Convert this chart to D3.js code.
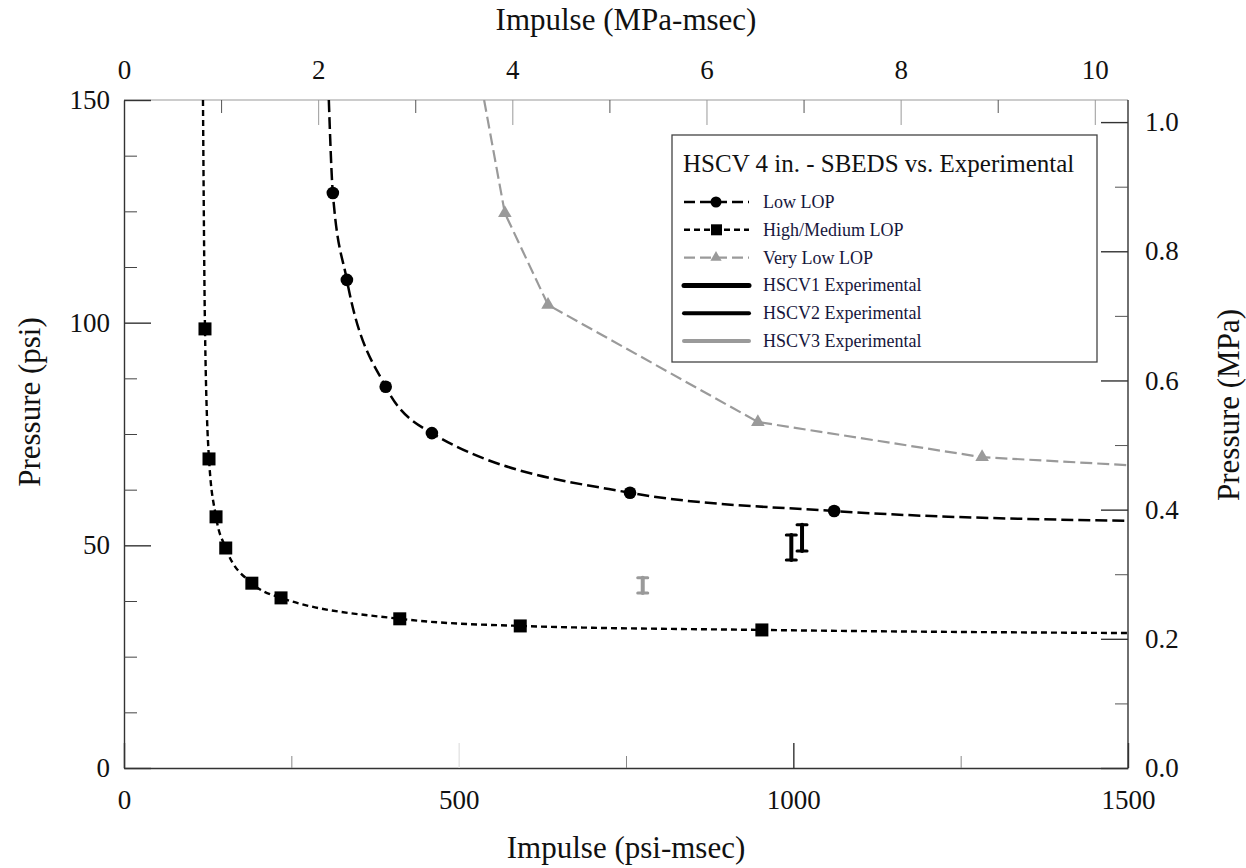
<!DOCTYPE html>
<html>
<head>
<meta charset="utf-8">
<script src="https://cdn.jsdelivr.net/npm/d3@7"></script>
<style>
  body { margin: 0; background: #fff; }
  svg text { font-family: "Liberation Serif", "Times New Roman", serif; }
</style>
</head>
<body>
<div id="chart"></div>
<script>
// ---- data (impulse in psi-msec, pressure in psi) ----
// first and last entries are where the curve leaves the frame, no marker there
var lowImpulse = [306, 312, 333, 391, 460, 756, 1061, 1500];
var lowPressure = [150, 129.1, 109.6, 85.6, 75.2, 61.8, 57.7, 55.5];

var highImpulse = [118, 121, 127, 137.5, 152, 191, 234.6, 412, 592, 953, 1500];
var highPressure = [150, 98.6, 69.4, 56.4, 49.4, 41.5, 38.2, 33.5, 31.9, 31.0, 30.3];

var veryLowImpulse = [538, 569, 633.5, 947, 1282, 1500];
var veryLowPressure = [150, 124.6, 104, 77.7, 69.8, 68.0];

// experimental ranges: impulse, pressure min, pressure max
var expNames = ["HSCV1 Experimental", "HSCV2 Experimental", "HSCV3 Experimental"];
var expImpulse = [997, 1013, 775];
var expPressureMin = [46.7, 48.7, 39.3];
var expPressureMax = [52.3, 54.6, 42.7];

var xTicks = [0, 500, 1000, 1500];
var xMinorTicks = [250, 750, 1250];
var yTicks = [0, 50, 100, 150];
var yMinorTicks = [12.5, 25, 37.5, 62.5, 75, 87.5, 112.5, 125, 137.5];
var topTicks = [0, 2, 4, 6, 8, 10];
var topMinorTicks = [1, 3, 5, 7, 9];
var rightTicks = [0, 0.2, 0.4, 0.6, 0.8, 1.0];
var rightMinorTicks = [0.1, 0.3, 0.5, 0.7, 0.9];

var PSI_PER_MPA = 145.038;

(function () {
  var width = 1246, height = 868;
  var mLeft = 124, mRight = 1128, mTop = 100, mBottom = 768;
  var grey = "#9a9a9a";

  var svg = d3.select("#chart").append("svg")
    .attr("width", width)
    .attr("height", height);

  var x = d3.scaleLinear().domain([0, 1500]).range([mLeft, mRight]);
  var y = d3.scaleLinear().domain([0, 150]).range([mBottom, mTop]);
  var xTop = d3.scaleLinear().domain([0, 1500 / PSI_PER_MPA]).range([mLeft, mRight]);
  var yRight = d3.scaleLinear().domain([0, 150 / PSI_PER_MPA]).range([mBottom, mTop]);

  function styleAxis(g, color, w) {
    g.select(".domain").attr("stroke", color).attr("stroke-width", w);
    g.selectAll(".tick line").attr("stroke", color).attr("stroke-width", w);
    g.selectAll(".tick text")
      .attr("fill", "#111")
      .style("font-size", "27px")
      .style("font-family", '"Liberation Serif", serif');
  }

  // bottom axis
  var gb = svg.append("g").attr("transform", "translate(0," + mBottom + ")")
    .call(d3.axisBottom(x).tickValues(xTicks).tickSize(-25).tickSizeOuter(0).tickPadding(22)
      .tickFormat(d3.format("d")));
  styleAxis(gb, "#333", 1.4);
  gb.selectAll(".tick line").filter(function(d) { return d == 500; }).attr("stroke", "#e4e4e4");
  var gbm = svg.append("g").attr("transform", "translate(0," + mBottom + ")")
    .call(d3.axisBottom(x).tickValues(xMinorTicks).tickSize(-12).tickFormat(""));
  gbm.select(".domain").remove();
  gbm.selectAll(".tick line").attr("stroke", "#888");

  // top axis
  var gt = svg.append("g").attr("transform", "translate(0," + mTop + ")")
    .call(d3.axisTop(xTop).tickValues(topTicks).tickSize(-25).tickSizeOuter(0).tickPadding(21));
  styleAxis(gt, "#999", 1);
  gt.select(".domain").attr("d", "M" + mLeft + ",0H" + mRight);
  var gtm = svg.append("g").attr("transform", "translate(0," + mTop + ")")
    .call(d3.axisTop(xTop).tickValues(topMinorTicks).tickSize(-13).tickFormat(""));
  gtm.select(".domain").remove();
  gtm.selectAll(".tick line").attr("stroke", "#555");

  // left axis
  var gl = svg.append("g").attr("transform", "translate(" + mLeft + ",0)")
    .call(d3.axisLeft(y).tickValues(yTicks).tickSize(-27).tickSizeOuter(0).tickPadding(14));
  styleAxis(gl, "#333", 1.4);
  var glm = svg.append("g").attr("transform", "translate(" + mLeft + ",0)")
    .call(d3.axisLeft(y).tickValues(yMinorTicks).tickSize(-13).tickFormat(""));
  glm.select(".domain").remove();
  glm.selectAll(".tick line").attr("stroke", "#444");

  // right axis
  var gr = svg.append("g").attr("transform", "translate(" + mRight + ",0)")
    .call(d3.axisRight(yRight).tickValues(rightTicks).tickSize(-27).tickSizeOuter(0).tickPadding(17)
      .tickFormat(d3.format(".1f")));
  styleAxis(gr, "#333", 1.4);
  gr.select(".domain").attr("d", "M0," + mTop + "V" + mBottom);
  var grm = svg.append("g").attr("transform", "translate(" + mRight + ",0)")
    .call(d3.axisRight(yRight).tickValues(rightMinorTicks).tickSize(-13).tickFormat(""));
  grm.select(".domain").remove();
  grm.selectAll(".tick line").attr("stroke", "#555");

  // axis titles
  svg.append("text").attr("x", (mLeft + mRight) / 2).attr("y", 30)
    .attr("text-anchor", "middle").style("font-size", "31px").attr("fill", "#111")
    .text("Impulse (MPa-msec)");
  svg.append("text").attr("x", (mLeft + mRight) / 2).attr("y", 858)
    .attr("text-anchor", "middle").style("font-size", "31px").attr("fill", "#111")
    .text("Impulse (psi-msec)");
  svg.append("text").attr("transform", "translate(40,402) rotate(-90)")
    .attr("text-anchor", "middle").style("font-size", "31px").attr("fill", "#111")
    .text("Pressure (psi)");
  svg.append("text").attr("transform", "translate(1239,405) rotate(-90)")
    .attr("text-anchor", "middle").style("font-size", "31px").attr("fill", "#111")
    .text("Pressure (MPa)");

  // clip to frame
  svg.append("clipPath").attr("id", "frame")
    .append("rect").attr("x", mLeft).attr("y", mTop)
    .attr("width", mRight - mLeft).attr("height", mBottom - mTop);

  var plot = svg.append("g").attr("clip-path", "url(#frame)");

  function toPoints(xs, ys) {
    return xs.map(function(v, i) { return [v, ys[i]]; });
  }

  var lowData = toPoints(lowImpulse, lowPressure);
  var highData = toPoints(highImpulse, highPressure);
  var veryLowData = toPoints(veryLowImpulse, veryLowPressure);

  var lineSmooth = d3.line()
    .x(function(d) { return x(d[0]); })
    .y(function(d) { return y(d[1]); })
    .curve(d3.curveMonotoneX);
  var lineStraight = d3.line()
    .x(function(d) { return x(d[0]); })
    .y(function(d) { return y(d[1]); });

  plot.append("path").attr("d", lineStraight(veryLowData))
    .attr("fill", "none").attr("stroke", grey).attr("stroke-width", 2.2).attr("stroke-dasharray", "12,5");
  plot.append("path").attr("d", lineSmooth(lowData))
    .attr("fill", "none").attr("stroke", "#000").attr("stroke-width", 2.5).attr("stroke-dasharray", "12,5");
  plot.append("path").attr("d", lineSmooth(highData))
    .attr("fill", "none").attr("stroke", "#000").attr("stroke-width", 2.4).attr("stroke-dasharray", "6,4");

  var tri = d3.symbol().type(d3.symbolTriangle).size(80);

  plot.selectAll(".tri").data(veryLowData.slice(1, -1)).enter().append("path")
    .attr("transform", function(d) { return "translate(" + x(d[0]) + "," + y(d[1]) + ")"; })
    .attr("d", tri).attr("fill", grey);
  plot.selectAll(".dot").data(lowData.slice(1, -1)).enter().append("circle")
    .attr("cx", function(d) { return x(d[0]); })
    .attr("cy", function(d) { return y(d[1]); })
    .attr("r", 6.3).attr("fill", "#000");
  plot.selectAll(".sq").data(highData.slice(1, -1)).enter().append("rect")
    .attr("x", function(d) { return x(d[0]) - 6.5; })
    .attr("y", function(d) { return y(d[1]) - 6.5; })
    .attr("width", 13).attr("height", 13).attr("fill", "#000");

  // experimental ranges (I-beams)
  var expColors = ["#000", "#000", grey];
  expNames.forEach(function(name, i) {
    var g = plot.append("g").attr("stroke", expColors[i]).attr("stroke-linecap", "round");
    var cx = x(expImpulse[i]);
    g.append("line").attr("x1", cx).attr("x2", cx)
      .attr("y1", y(expPressureMin[i])).attr("y2", y(expPressureMax[i])).attr("stroke-width", 4);
    g.append("line").attr("x1", cx - 5).attr("x2", cx + 5)
      .attr("y1", y(expPressureMin[i])).attr("y2", y(expPressureMin[i])).attr("stroke-width", 3);
    g.append("line").attr("x1", cx - 5).attr("x2", cx + 5)
      .attr("y1", y(expPressureMax[i])).attr("y2", y(expPressureMax[i])).attr("stroke-width", 3);
  });

  // legend
  var legend = svg.append("g");
  legend.append("rect").attr("x", 672).attr("y", 135).attr("width", 425).attr("height", 227)
    .attr("fill", "#fff").attr("stroke", "#444").attr("stroke-width", 1.3);
  legend.append("text").attr("x", 683).attr("y", 172).style("font-size", "25px").attr("fill", "#111")
    .text("HSCV 4 in. - SBEDS vs. Experimental");

  var legendItems = [
    { label: "Low LOP", color: "#000", dash: "11,5", width: 2.4, mark: "circle" },
    { label: "High/Medium LOP", color: "#000", dash: "6,4", width: 2.4, mark: "square" },
    { label: "Very Low LOP", color: grey, dash: "11,5", width: 2.2, mark: "triangle" },
    { label: expNames[0], color: "#000", dash: null, width: 5, mark: null },
    { label: expNames[1], color: "#000", dash: null, width: 4, mark: null },
    { label: expNames[2], color: grey, dash: null, width: 4, mark: null }
  ];

  legendItems.forEach(function(it, i) {
    var ly = 202 + i * 27.8;
    legend.append("line").attr("x1", 684).attr("x2", 749).attr("y1", ly).attr("y2", ly)
      .attr("stroke", it.color).attr("stroke-width", it.width)
      .attr("stroke-dasharray", it.dash).attr("stroke-linecap", it.dash ? "butt" : "round");
    if (it.mark == "circle") {
      legend.append("circle").attr("cx", 716).attr("cy", ly).attr("r", 5.5).attr("fill", it.color);
    } else if (it.mark == "square") {
      legend.append("rect").attr("x", 711).attr("y", ly - 5.5).attr("width", 11).attr("height", 11).attr("fill", it.color);
    } else if (it.mark == "triangle") {
      legend.append("path").attr("transform", "translate(716," + ly + ")")
        .attr("d", d3.symbol().type(d3.symbolTriangle).size(55)).attr("fill", it.color);
    }
    legend.append("text").attr("x", 763).attr("y", ly + 6).style("font-size", "18px").attr("fill", "#16163c")
      .text(it.label);
  });
})();
</script>
</body>
</html>
